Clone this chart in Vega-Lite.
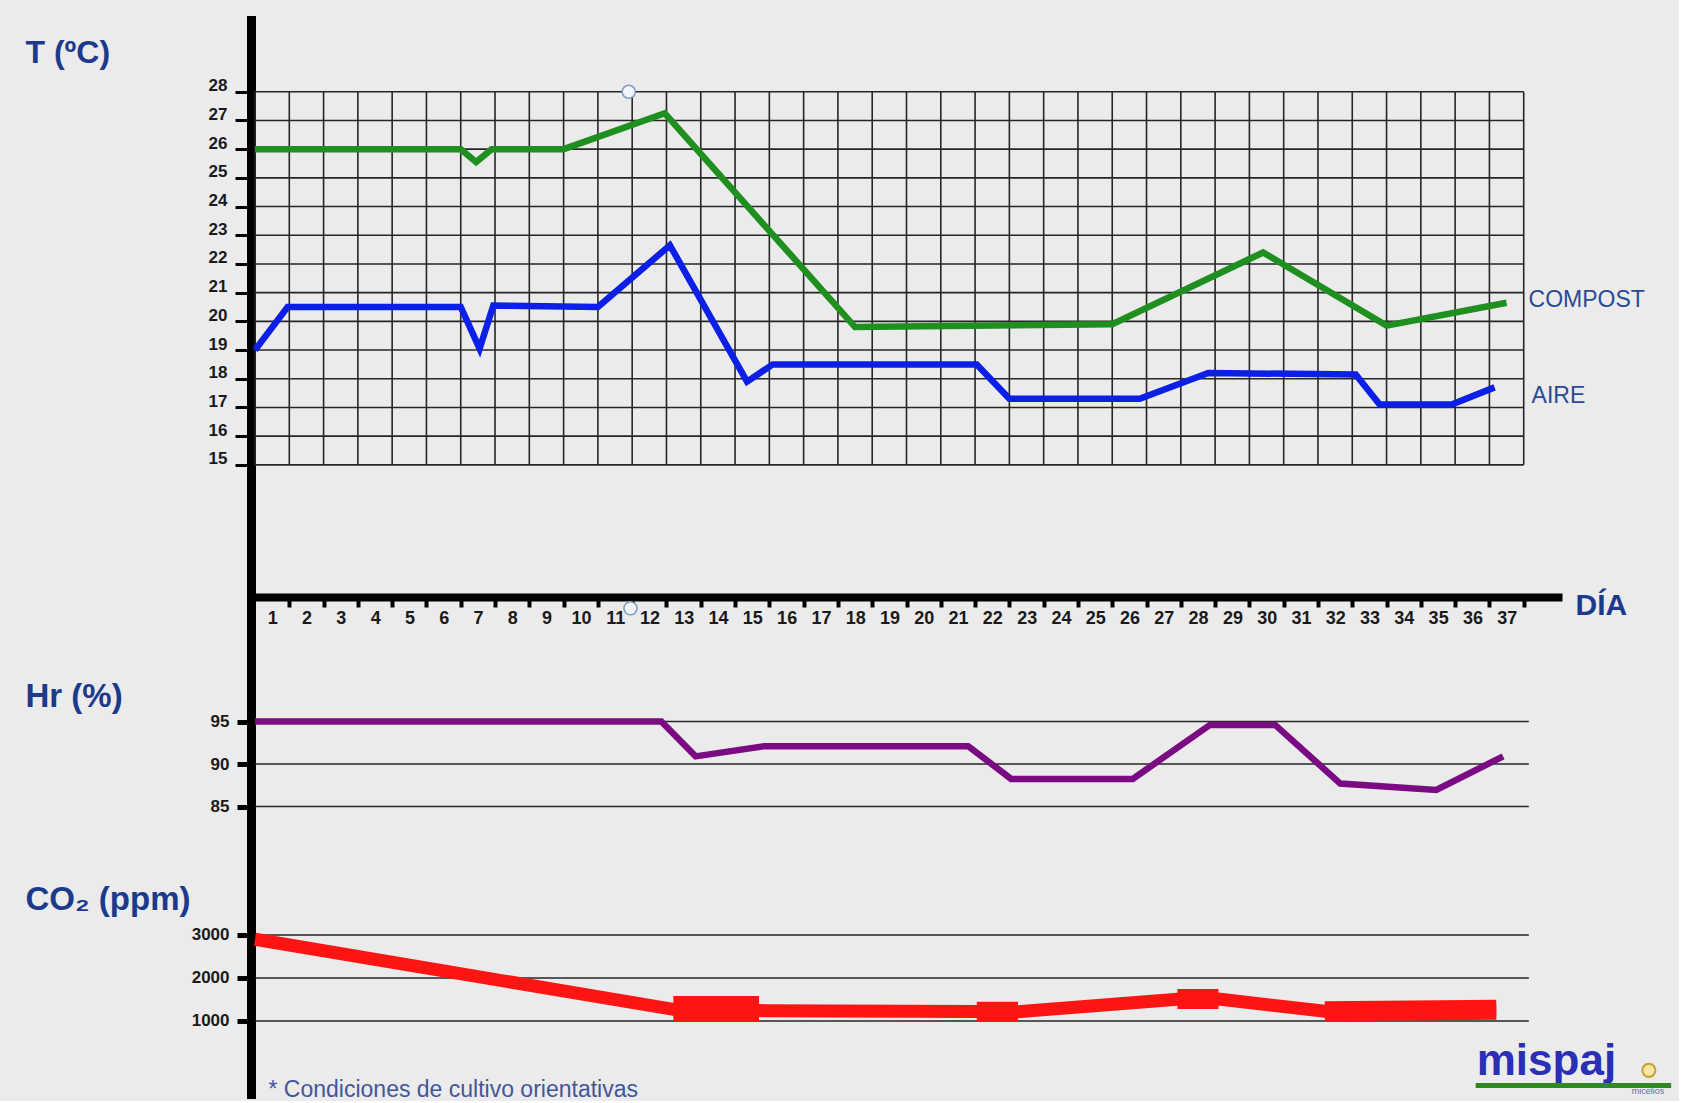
{
  "$schema": "https://vega.github.io/schema/vega-lite/v6.json",
  "background": "#ebebeb",
  "padding": {"left": 25, "top": 20, "right": 5, "bottom": 0},
  "autosize": {"type": "pad"},
  "spacing": 0,
  "bounds": "flush",
  "config": {"view": {"stroke": null}, "axis": {"grid": false, "labelOverlap": false, "labelFlush": false}, "font": "Liberation Sans"},
  "datasets": {
    "tgrid": [{"v":15},{"v":16},{"v":17},{"v":18},{"v":19},{"v":20},{"v":21},{"v":22},{"v":23},{"v":24},{"v":25},{"v":26},{"v":27},{"v":28}],
    "ugrid": [{"u":0},{"u":1},{"u":2},{"u":3},{"u":4},{"u":5},{"u":6},{"u":7},{"u":8},{"u":9},{"u":10},{"u":11},{"u":12},{"u":13},{"u":14},{"u":15},{"u":16},{"u":17},{"u":18},{"u":19},{"u":20},{"u":21},{"u":22},{"u":23},{"u":24},{"u":25},{"u":26},{"u":27},{"u":28},{"u":29},{"u":30},{"u":31},{"u":32},{"u":33},{"u":34},{"u":35},{"u":36},{"u":37}],
    "temp": [
      {"serie":"COMPOST","u":0,"v":26},{"serie":"COMPOST","u":6,"v":26},{"serie":"COMPOST","u":6.45,"v":25.55},{"serie":"COMPOST","u":6.9,"v":26},{"serie":"COMPOST","u":9,"v":26},{"serie":"COMPOST","u":11.95,"v":27.25},{"serie":"COMPOST","u":17.5,"v":19.8},{"serie":"COMPOST","u":25,"v":19.9},{"serie":"COMPOST","u":29.4,"v":22.4},{"serie":"COMPOST","u":33,"v":19.85},{"serie":"COMPOST","u":36.5,"v":20.65},
      {"serie":"AIRE","u":0,"v":19.0},{"serie":"AIRE","u":0.95,"v":20.5},{"serie":"AIRE","u":6,"v":20.5},{"serie":"AIRE","u":6.55,"v":19.05},{"serie":"AIRE","u":6.95,"v":20.55},{"serie":"AIRE","u":10,"v":20.5},{"serie":"AIRE","u":12.1,"v":22.65},{"serie":"AIRE","u":14.35,"v":17.9},{"serie":"AIRE","u":15.1,"v":18.5},{"serie":"AIRE","u":21.05,"v":18.5},{"serie":"AIRE","u":22.0,"v":17.3},{"serie":"AIRE","u":25.8,"v":17.3},{"serie":"AIRE","u":27.8,"v":18.2},{"serie":"AIRE","u":32.1,"v":18.15},{"serie":"AIRE","u":32.8,"v":17.1},{"serie":"AIRE","u":34.9,"v":17.1},{"serie":"AIRE","u":36.15,"v":17.7}
    ],
    "handles": [{"u":10.9,"v":28},{"u":10.95,"v":10.0}],
    "hrgrid": [{"v":85},{"v":90},{"v":95}],
    "hr": [{"u":0,"v":95},{"u":11.85,"v":95},{"u":12.85,"v":90.9},{"u":14.85,"v":92.1},{"u":20.8,"v":92.1},{"u":22.05,"v":88.25},{"u":25.6,"v":88.25},{"u":27.85,"v":94.6},{"u":29.75,"v":94.6},{"u":31.65,"v":87.7},{"u":34.45,"v":86.95},{"u":36.4,"v":90.9}],
    "co2grid": [{"v":1000},{"v":2000},{"v":3000}],
    "co2": [{"u":0,"v":2900},{"u":12.2,"v":1270},{"u":14.7,"v":1240},{"u":21.05,"v":1220},{"u":22.25,"v":1215},{"u":26.9,"v":1505},{"u":28.1,"v":1510},{"u":31.2,"v":1225},{"u":36.2,"v":1260}],
    "co2blob": [{"seg":"A","u":12.2,"v":1280},{"seg":"A","u":14.7,"v":1280},{"seg":"B","u":21.05,"v":1215},{"seg":"B","u":22.25,"v":1215},{"seg":"C","u":26.9,"v":1510},{"seg":"C","u":28.1,"v":1510},{"seg":"D","u":31.2,"v":1225},{"seg":"D","u":36.2,"v":1262}]
  },
  "vconcat": [
    {
      "width": 1303, "height": 574,
      "layer": [
        {"data": {"name": "tgrid"}, "mark": {"type": "rule", "color": "#262626", "strokeWidth": 1.6},
         "encoding": {"x": {"datum": 0, "type": "quantitative", "scale": {"domain": [0, 38]}}, "x2": {"datum": 37},
                      "y": {"field": "v", "type": "quantitative", "scale": {"domain": [10.5, 30.5]}}}},
        {"data": {"name": "ugrid"}, "mark": {"type": "rule", "color": "#262626", "strokeWidth": 1.6},
         "encoding": {"x": {"field": "u", "type": "quantitative", "scale": {"domain": [0, 38]}},
                      "y": {"datum": 15, "type": "quantitative", "scale": {"domain": [10.5, 30.5]}}, "y2": {"datum": 28}}},
        {"data": {"name": "temp"}, "mark": {"type": "line", "strokeWidth": 6.5},
         "encoding": {
           "x": {"field": "u", "type": "quantitative", "scale": {"domain": [0, 38]},
                 "axis": {"orient": "bottom", "values": [1,2,3,4,5,6,7,8,9,10,11,12,13,14,15,16,17,18,19,20,21,22,23,24,25,26,27,28,29,30,31,32,33,34,35,36,37], "tickCount": 60, "format": "d",
                          "domain": true, "domainColor": "#000000", "domainWidth": 8, "domainCap": "square", "offset": 3,
                          "ticks": true, "tickColor": "#000000", "tickSize": 10, "tickWidth": 4,
                          "labelOffset": -17, "labelFont": "Liberation Sans", "labelFontSize": 18, "labelFontWeight": "bold", "labelColor": "#1a1a1a", "labelPadding": 2,
                          "labelFlush": false, "labelOverlap": false, "labelSeparation": 0, "labelBound": false, "grid": false,
                          "title": "DÍA", "titleX": 1320, "titleY": 17, "titleAlign": "left", "titleBaseline": "alphabetic", "titleFontSize": 30, "titleFontWeight": "bold", "titleColor": "#1c3a8c"}},
           "y": {"field": "v", "type": "quantitative", "scale": {"domain": [10.5, 30.5]},
                 "axis": {"orient": "left", "values": [15,16,17,18,19,20,21,22,23,24,25,26,27,28], "tickCount": 30, "format": "d",
                          "domain": true, "domainColor": "#000000", "domainWidth": 9, "domainCap": "square", "offset": 4,
                          "ticks": true, "tickColor": "#000000", "tickSize": 16, "tickWidth": 3,
                          "labelFontSize": 17, "labelFontWeight": "bold", "labelColor": "#1a1a1a", "labelPadding": 8, "labelOffset": -6,
                          "labelOverlap": false, "labelBound": false, "labelFlush": false, "grid": false,
                          "title": "T (ºC)", "titleAngle": 0, "titleX": -226, "titleY": 42, "titleAlign": "left", "titleBaseline": "alphabetic", "titleFontSize": 32, "titleFontWeight": "bold", "titleColor": "#1c3a8c"}},
           "color": {"field": "serie", "type": "nominal", "scale": {"domain": ["COMPOST", "AIRE"], "range": ["#1f8f1f", "#0b1fe6"]}, "legend": null}
         }},
        {"data": {"name": "temp"},
         "transform": [{"filter": "datum.serie == 'COMPOST'"}, {"joinaggregate": [{"op": "max", "field": "u", "as": "umax"}]}, {"filter": "datum.u == datum.umax"}],
         "mark": {"type": "text", "align": "left", "baseline": "alphabetic", "dx": 22, "dy": 4, "fontSize": 23, "color": "#2b4a95"},
         "encoding": {"x": {"field": "u", "type": "quantitative", "scale": {"domain": [0, 38]}},
                      "y": {"field": "v", "type": "quantitative", "scale": {"domain": [10.5, 30.5]}},
                      "text": {"field": "serie"}}},
        {"data": {"name": "temp"},
         "transform": [{"filter": "datum.serie == 'AIRE'"}, {"joinaggregate": [{"op": "max", "field": "u", "as": "umax"}]}, {"filter": "datum.u == datum.umax"}],
         "mark": {"type": "text", "align": "left", "baseline": "alphabetic", "dx": 37, "dy": 16, "fontSize": 23, "color": "#2b4a95"},
         "encoding": {"x": {"field": "u", "type": "quantitative", "scale": {"domain": [0, 38]}},
                      "y": {"field": "v", "type": "quantitative", "scale": {"domain": [10.5, 30.5]}},
                      "text": {"field": "serie"}}},
        {"data": {"name": "handles"},
         "mark": {"type": "point", "shape": "circle", "size": 170, "filled": true, "fill": "#f2f6fa", "stroke": "#7d9cc0", "strokeWidth": 1.5, "opacity": 1},
         "encoding": {"x": {"field": "u", "type": "quantitative", "scale": {"domain": [0, 38]}},
                      "y": {"field": "v", "type": "quantitative", "scale": {"domain": [10.5, 30.5]}}}}
      ]
    },
    {
      "width": 1303, "height": 255,
      "layer": [
        {"data": {"name": "hrgrid"}, "mark": {"type": "rule", "color": "#262626", "strokeWidth": 1.6},
         "encoding": {"x": {"datum": 0, "type": "quantitative", "scale": {"domain": [0, 38]}, "axis": null}, "x2": {"datum": 37.15},
                      "y": {"field": "v", "type": "quantitative", "scale": {"domain": [80, 110]},
                            "axis": {"orient": "left", "values": [85, 90, 95], "format": "d",
                                     "domain": true, "domainColor": "#000000", "domainWidth": 9, "domainCap": "square", "offset": 4,
                                     "ticks": true, "tickColor": "#000000", "tickSize": 14, "tickWidth": 5,
                                     "labelFontSize": 17, "labelFontWeight": "bold", "labelColor": "#1a1a1a", "labelPadding": 8,
                                     "labelOverlap": false, "labelBound": false, "labelFlush": false, "grid": false,
                                     "title": "Hr (%)", "titleAngle": 0, "titleX": -226, "titleY": 112, "titleAlign": "left", "titleBaseline": "alphabetic", "titleFontSize": 33, "titleFontWeight": "bold", "titleColor": "#1c3a8c"}}}},
        {"data": {"name": "hr"}, "mark": {"type": "line", "color": "#7b0b82", "strokeWidth": 6.5},
         "encoding": {"x": {"field": "u", "type": "quantitative", "scale": {"domain": [0, 38]}, "axis": null},
                      "y": {"field": "v", "type": "quantitative", "scale": {"domain": [80, 110]}}}}
      ]
    },
    {
      "width": 1303, "height": 245,
      "layer": [
        {"data": {"name": "co2grid"}, "mark": {"type": "rule", "color": "#262626", "strokeWidth": 1.6},
         "encoding": {"x": {"datum": 0, "type": "quantitative", "scale": {"domain": [0, 38]},
                            "axis": {"orient": "bottom", "domain": false, "ticks": false, "labels": false, "grid": false,
                                     "title": "* Condiciones de cultivo orientativas", "titleX": 13, "titleY": 2, "titleAlign": "left", "titleBaseline": "alphabetic",
                                     "titleFontSize": 23, "titleFontWeight": "normal", "titleColor": "#44569a"}},
                      "x2": {"datum": 37.15},
                      "y": {"field": "v", "type": "quantitative", "scale": {"domain": [-700, 5000]},
                            "axis": {"orient": "left", "values": [1000, 2000, 3000], "format": "d",
                                     "domain": true, "domainColor": "#000000", "domainWidth": 9, "domainCap": "square", "offset": 4,
                                     "ticks": true, "tickColor": "#000000", "tickSize": 14, "tickWidth": 5,
                                     "labelFontSize": 17, "labelFontWeight": "bold", "labelColor": "#1a1a1a", "labelPadding": 8,
                                     "labelOverlap": false, "labelBound": false, "labelFlush": false, "grid": false,
                                     "title": "CO₂ (ppm)", "titleAngle": 0, "titleX": -226, "titleY": 60, "titleAlign": "left", "titleBaseline": "alphabetic", "titleFontSize": 33, "titleFontWeight": "bold", "titleColor": "#1c3a8c"}}}},
        {"data": {"name": "co2"}, "mark": {"type": "line", "color": "#ff1414", "strokeWidth": 13, "strokeCap": "butt"},
         "encoding": {"x": {"field": "u", "type": "quantitative", "scale": {"domain": [0, 38]}},
                      "y": {"field": "v", "type": "quantitative", "scale": {"domain": [-700, 5000]}}}},
        {"data": {"name": "co2blob"}, "transform": [{"filter": "datum.seg == 'A'"}],
         "mark": {"type": "line", "color": "#ff1414", "strokeWidth": 26, "strokeCap": "butt"},
         "encoding": {"x": {"field": "u", "type": "quantitative", "scale": {"domain": [0, 38]}},
                      "y": {"field": "v", "type": "quantitative", "scale": {"domain": [-700, 5000]}},
                      "detail": {"field": "seg"}}},
        {"data": {"name": "co2blob"}, "transform": [{"filter": "datum.seg != 'A'"}],
         "mark": {"type": "line", "color": "#ff1414", "strokeWidth": 20, "strokeCap": "butt"},
         "encoding": {"x": {"field": "u", "type": "quantitative", "scale": {"domain": [0, 38]}},
                      "y": {"field": "v", "type": "quantitative", "scale": {"domain": [-700, 5000]}},
                      "detail": {"field": "seg"}}},
        {"data": {"values": [{"t": "mispaj"}]},
         "mark": {"type": "text", "align": "left", "baseline": "alphabetic", "fontSize": 44, "fontWeight": "bold", "color": "#2b2fb5"},
         "encoding": {"x": {"datum": 35.63, "type": "quantitative", "scale": {"domain": [0, 38]}},
                      "y": {"datum": -256, "type": "quantitative", "scale": {"domain": [-700, 5000]}},
                      "text": {"field": "t"}}},
        {"data": {"values": [{"t": "bar"}]},
         "mark": {"type": "rule", "color": "#2d8a1e", "strokeWidth": 5},
         "encoding": {"x": {"datum": 35.6, "type": "quantitative", "scale": {"domain": [0, 38]}}, "x2": {"datum": 41.3},
                      "y": {"datum": -500, "type": "quantitative", "scale": {"domain": [-700, 5000]}}}},
        {"data": {"values": [{"t": "micelios"}]},
         "mark": {"type": "text", "align": "right", "baseline": "alphabetic", "fontSize": 9, "color": "#6a6aa0"},
         "encoding": {"x": {"datum": 41.1, "type": "quantitative", "scale": {"domain": [0, 38]}},
                      "y": {"datum": -700, "type": "quantitative", "scale": {"domain": [-700, 5000]}},
                      "text": {"field": "t"}}},
        {"data": {"values": [{"t": "bulb"}]},
         "mark": {"type": "point", "shape": "circle", "size": 170, "filled": true, "fill": "#f5e6a0", "stroke": "#c8a030", "strokeWidth": 2, "opacity": 1},
         "encoding": {"x": {"datum": 40.65, "type": "quantitative", "scale": {"domain": [0, 38]}},
                      "y": {"datum": -150, "type": "quantitative", "scale": {"domain": [-700, 5000]}}}}
      ]
    }
  ]
}
